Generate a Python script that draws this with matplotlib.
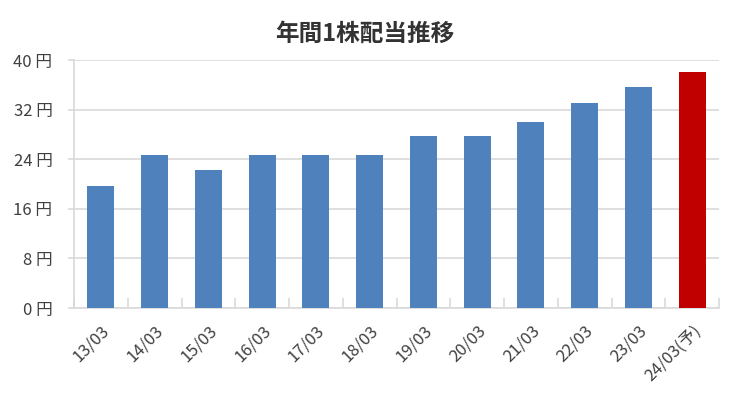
import matplotlib
matplotlib.use("Agg")
import matplotlib.pyplot as plt
import matplotlib.transforms as mtransforms
import numpy as np

categories = ["13/03", "14/03", "15/03", "16/03", "17/03", "18/03",
              "19/03", "20/03", "21/03", "22/03", "23/03", "24/03(予)"]
dividends = [19.6, 24.7, 22.3, 24.7, 24.7, 24.7, 27.7, 27.7, 30.0, 33.0, 35.7, 38.0]
forecast = [False] * 11 + [True]
yticks = [0, 8, 16, 24, 32, 40]
ytick_labels = [f"{v} 円" for v in yticks]
title = "年間1株配当推移"

plt.rcParams['font.family'] = ['Noto Sans CJK JP', 'DejaVu Sans']

fig = plt.figure(figsize=(7.3, 4.0), dpi=100)
ax = fig.add_axes([0.1014, 0.23, 0.8836, 0.62])

x = np.arange(len(categories))
colors = ["#c00000" if f else "#4f81bd" for f in forecast]
ax.bar(x, dividends, width=0.5, color=colors, zorder=3)

ax.set_xlim(-0.5, len(categories) - 0.5)
ax.set_ylim(0, 40)
ax.set_yticks(yticks)
ax.set_yticklabels(ytick_labels, fontsize=12, color="#404040")
ax.yaxis.grid(True, color="#d9d9d9", linewidth=1.2, zorder=0)
ax.tick_params(axis='y', length=4.5, width=1.2, color="#d9d9d9", pad=11)

ax.set_xticks(x)
ax.set_xticklabels(categories, rotation=45, ha='right', rotation_mode='anchor',
                   fontsize=12, color="#404040")
offset = mtransforms.ScaledTranslation(2 / 100, -5 / 100, fig.dpi_scale_trans)
for lbl in ax.get_xticklabels():
    lbl.set_transform(lbl.get_transform() + offset)
ax.set_xticks(np.arange(-0.5, len(categories)), minor=True)
ax.tick_params(axis='x', which='major', length=0, pad=10)
ax.tick_params(axis='x', which='minor', direction='in', length=7, width=1.2, color="#d9d9d9")

for s in ['top', 'right']:
    ax.spines[s].set_visible(False)
ax.spines['left'].set_color("#d9d9d9")
ax.spines['bottom'].set_color("#d9d9d9")
ax.spines['left'].set_linewidth(1.2)
ax.spines['bottom'].set_linewidth(1.2)

fig.text(0.5, 0.915, title, ha='center', va='center', fontsize=17,
         fontweight='bold', color="#333333")

fig.savefig("out.png", dpi=100)
